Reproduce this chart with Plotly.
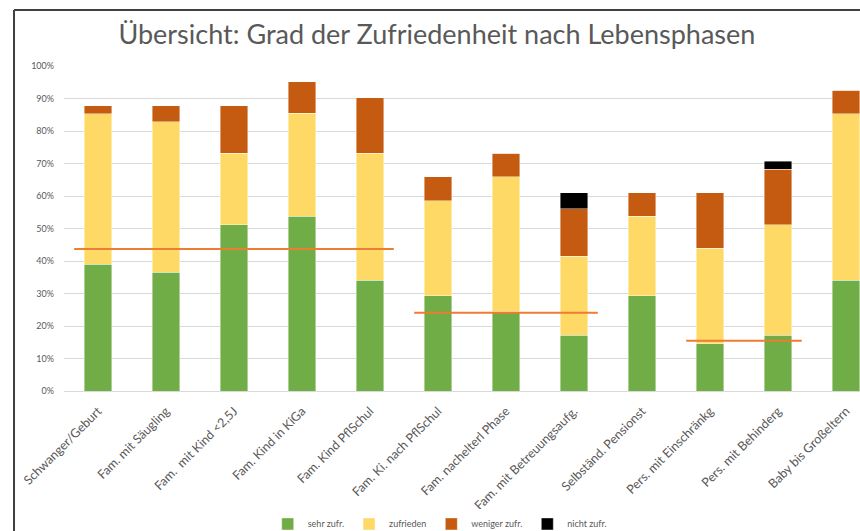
import plotly.graph_objects as go

categories = ["Schwanger/Geburt", "Fam. mit Säugling", "Fam.  mit Kind <2,5J", "Fam. Kind in KiGa",
              "Fam. Kind PflSchul", "Fam. Ki. nach PflSchul", "Fam. nachelterl Phase",
              "Fam. mit Betreuungsaufg.", "Selbständ. Pensionst", "Pers. mit Einschränkg",
              "Pers. mit Behinderg", "Baby bis Großeltern"]

sehr_zufr = [39.0, 36.6, 51.2, 53.7, 34.1, 29.3, 24.4, 17.1, 29.3, 14.6, 17.1, 34.1]
zufrieden = [46.3, 46.3, 22.0, 31.7, 39.0, 29.3, 41.5, 24.4, 24.4, 29.3, 34.1, 51.2]
weniger_zufr = [2.4, 4.9, 14.6, 9.8, 17.1, 7.3, 7.3, 14.6, 7.3, 17.1, 17.1, 7.3]
nicht_zufr = [0, 0, 0, 0, 0, 0, 0, 4.9, 0, 0, 2.4, 0]

# average lines per group: (first category index, last category index, value %)
group_first = [0, 5, 9]
group_last = [4, 7, 10]
group_avg = [43.7, 24.1, 15.5]

y_tickvals = [0, 10, 20, 30, 40, 50, 60, 70, 80, 90, 100]
y_ticktext = ["0%", "10%", "20%", "30%", "40%", "50%", "60%", "70%", "80%", "90%", "100%"]

series = [
    ("sehr zufr.", sehr_zufr, "#70AD47"),
    ("zufrieden", zufrieden, "#FFD966"),
    ("weniger zufr.", weniger_zufr, "#C55A11"),
    ("nicht zufr.", nicht_zufr, "#000000"),
]

x_idx = list(range(len(categories)))
fig = go.Figure()
for name, vals, col in series:
    fig.add_trace(go.Bar(
        x=x_idx, y=vals, name=name, width=0.40,
        marker=dict(color=col, line=dict(color="rgba(255,255,255,0.7)", width=0.6)),
    ))

pad = 0.35
for f, l, v in zip(group_first, group_last, group_avg):
    fig.add_trace(go.Scatter(
        x=[f - pad, l + pad], y=[v, v], mode="lines",
        line=dict(color="#ED7D31", width=2), showlegend=False, hoverinfo="skip",
    ))

grey = "#595959"
fig.update_layout(
    width=860, height=531,
    barmode="stack",
    plot_bgcolor="white", paper_bgcolor="white",
    margin=dict(l=64, r=0, t=66, b=140, autoexpand=False),
    font=dict(family="Lato, Open Sans, sans-serif", color=grey),
    title=dict(text="Übersicht: Grad der Zufriedenheit nach Lebensphasen",
               x=0.508, xanchor="center", y=0.934, yanchor="middle",
               font=dict(size=27, color=grey, family="Lato, Open Sans, sans-serif")),
    legend=dict(orientation="h", x=0.472, xanchor="center", y=-0.409, yanchor="middle",
                font=dict(size=9, color=grey), traceorder="normal", itemwidth=30),
    xaxis=dict(range=[-0.5, 11.206], tickmode="array", tickvals=x_idx, ticktext=categories,
               tickangle=-45, tickfont=dict(size=12.5, color=grey), showgrid=False,
               showline=True, linecolor="#D9D9D9", linewidth=1, zeroline=False,
               ticks="", ticklabelstandoff=7, automargin=False),
    yaxis=dict(range=[0, 100], tickmode="array", tickvals=y_tickvals, ticktext=y_ticktext,
               tickfont=dict(size=9, color=grey), showgrid=True, gridcolor="#D9D9D9",
               gridwidth=1, zeroline=False, showline=False, ticks="", ticklabelstandoff=9,
               automargin=False),
    shapes=[
        dict(type="line", xref="paper", yref="paper", x0=-0.0628, x1=-0.0628, y0=1.1723, y1=-0.46,
             line=dict(color="#404040", width=2)),
        dict(type="line", xref="paper", yref="paper", x0=-0.0628, x1=1.02, y0=1.1723, y1=1.1723,
             line=dict(color="#404040", width=2)),
    ],
)

fig.write_html("out.html", config={"displayModeBar": False},
               post_script="document.body.style.margin='0';document.documentElement.style.overflow='hidden';")
